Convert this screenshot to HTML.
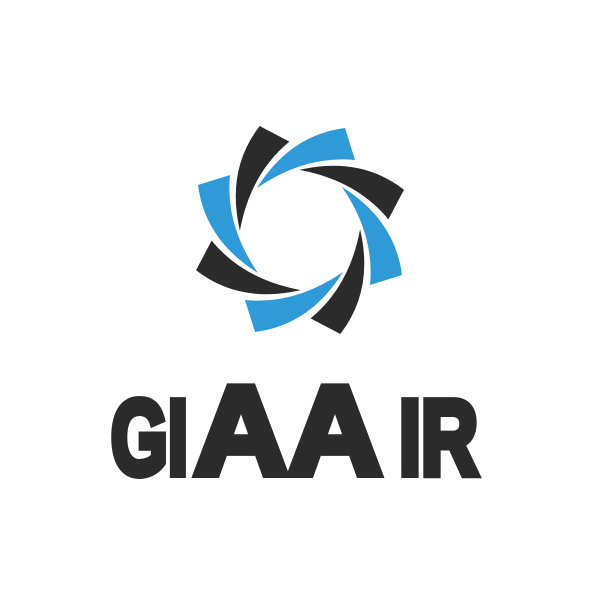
<!DOCTYPE html>
<html><head><meta charset="utf-8"><style>html,body{margin:0;padding:0;background:#fff}svg{display:block}</style></head>
<body>
<svg width="591" height="591" viewBox="0 0 591 591">
<g transform="translate(300,230)">
<g id="blades"></g>
</g>
<g font-family="Liberation Sans, sans-serif" font-weight="bold" fill="#2b2b2b" stroke="#2b2b2b" stroke-width="8" stroke-linejoin="miter">
<text x="111" y="474" font-size="106" textLength="77" lengthAdjust="spacingAndGlyphs">GI</text>
<text x="194" y="474" font-size="126" textLength="188" lengthAdjust="spacingAndGlyphs">AA</text>
<text x="399" y="474" font-size="106" textLength="79" lengthAdjust="spacingAndGlyphs">IR</text>
</g>
</svg>
<script>
const bladeColors=['#2e9ad8','#2b2b2b','#2e9ad8','#2b2b2b','#2e9ad8','#2b2b2b','#2e9ad8','#2b2b2b'];
const g=document.getElementById('blades');
bladeColors.forEach((c,i)=>{
const p=document.createElementNS('http://www.w3.org/2000/svg','path');
p.setAttribute('d','M -43,-42 Q -10,-95 45,-102 L 55,-70 Q 5,-75 -43,-42 Z');
p.setAttribute('fill',c);
p.setAttribute('transform','rotate('+(i*45)+')');


g.appendChild(p);
});
</script>
</body></html>
